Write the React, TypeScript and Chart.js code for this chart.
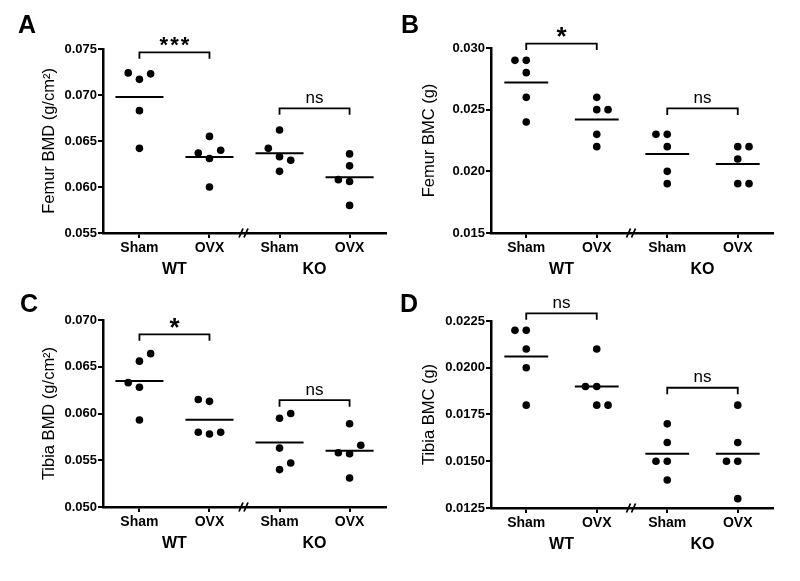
import React, { useEffect, useRef } from "react";
import { Chart, registerables } from "chart.js";
Chart.register(...registerables);

const FONT = "'Liberation Sans', Arial, Helvetica, sans-serif";

// Shared categories
const groupLabels = ["Sham", "OVX", "Sham", "OVX"];
const groupPositions = [1, 2, 3, 4];
const genotypeLabels = ["WT", "KO"];
const genotypePositions = [1.5, 3.5];
const breakPosition = 2.5;

// Panel A: Femur BMD (g/cm²)
const femurBmdWtSham = [0.0724, 0.0717, 0.0723, 0.0683, 0.0642];
const femurBmdWtOvx = [0.0655, 0.0637, 0.064, 0.0631, 0.06];
const femurBmdKoSham = [0.0662, 0.0642, 0.0633, 0.0629, 0.0617];
const femurBmdKoOvx = [0.0636, 0.0623, 0.0608, 0.0606, 0.058];
const femurBmdJitter = [[-1, 0, 1, 0, 0], [0, -1, 1, 0, 0], [0, -1, 0, 1, 0], [0, 0, -1, 0, 0]];
const femurBmdTicks = [0.055, 0.06, 0.065, 0.07, 0.075];
const femurBmdBrackets = [
  { from: 1, to: 2, y: 0.07464, label: "***" },
  { from: 3, to: 4, y: 0.06855, label: "ns" },
];

// Panel B: Femur BMC (g)
const femurBmcWtSham = [0.029, 0.029, 0.028, 0.026, 0.024];
const femurBmcWtOvx = [0.026, 0.025, 0.025, 0.023, 0.022];
const femurBmcKoSham = [0.023, 0.023, 0.022, 0.02, 0.019];
const femurBmcKoOvx = [0.022, 0.022, 0.021, 0.019, 0.019];
const femurBmcJitter = [[-1, 0, 0, 0, 0], [0, 0, 1, 0, 0], [-1, 0, 0, 0, 0], [0, 1, 0, 0, 1]];
const femurBmcTicks = [0.015, 0.02, 0.025, 0.03];
const femurBmcBrackets = [
  { from: 1, to: 2, y: 0.03036, label: "*" },
  { from: 3, to: 4, y: 0.0251, label: "ns" },
];

// Panel C: Tibia BMD (g/cm²)
const tibiaBmdWtSham = [0.0633, 0.0656, 0.0664, 0.0628, 0.0593];
const tibiaBmdWtOvx = [0.0615, 0.0613, 0.058, 0.0578, 0.058];
const tibiaBmdKoSham = [0.0595, 0.06, 0.0563, 0.0547, 0.054];
const tibiaBmdKoOvx = [0.0589, 0.0566, 0.0558, 0.0557, 0.0531];
const tibiaBmdJitter = [[-1, 0, 1, 0, 0], [-1, 0, -1, 0, 1], [0, 1, 0, 1, 0], [0, 1, -1, 0, 0]];
const tibiaBmdTicks = [0.05, 0.055, 0.06, 0.065, 0.07];
const tibiaBmdBrackets = [
  { from: 1, to: 2, y: 0.06847, label: "*" },
  { from: 3, to: 4, y: 0.06143, label: "ns" },
];

// Panel D: Tibia BMC (g)
const tibiaBmcWtSham = [0.022, 0.022, 0.021, 0.02, 0.018];
const tibiaBmcWtOvx = [0.021, 0.019, 0.019, 0.018, 0.018];
const tibiaBmcKoSham = [0.017, 0.016, 0.015, 0.015, 0.014];
const tibiaBmcKoOvx = [0.018, 0.016, 0.015, 0.015, 0.013];
const tibiaBmcJitter = [[-1, 0, 0, 0, 0], [0, -1, 0, 0, 1], [0, 0, -1, 0, 0], [0, 0, -1, 0, 0]];
const tibiaBmcTicks = [0.0125, 0.015, 0.0175, 0.02, 0.0225];
const tibiaBmcBrackets = [
  { from: 1, to: 2, y: 0.02291, label: "ns" },
  { from: 3, to: 4, y: 0.01893, label: "ns" },
];

const JITTER_STEP = 0.16;

type Bracket = { from: number; to: number; y: number; label: string };
type PanelCfg = {
  letter: string;
  letterX: number;
  letterY: number;
  left: number;
  top: number;
  title: string;
  groups: number[][];
  jitter: number[][];
  ticks: number[];
  decimals: number;
  brackets: Bracket[];
  xMin: number;
  xMax: number;
  yWidth: number;
  padTop: number;
  padRight: number;
  x2Height: number;
  titlePad: number;
  meanHalf: number;
};

const panels: PanelCfg[] = [
  {
    letter: "A", letterX: 18, letterY: 33, left: 0, top: 0,
    title: "Femur BMD (g/cm²)",
    groups: [femurBmdWtSham, femurBmdWtOvx, femurBmdKoSham, femurBmdKoOvx],
    jitter: femurBmdJitter, ticks: femurBmdTicks, decimals: 3, brackets: femurBmdBrackets,
    xMin: 0.48, xMax: 4.52, yWidth: 103, padTop: 49, padRight: 14, x2Height: 32, titlePad: 39.4, meanHalf: 0.343,
  },
  {
    letter: "B", letterX: 1, letterY: 33, left: 400, top: 0,
    title: "Femur BMC (g)",
    groups: [femurBmcWtSham, femurBmcWtOvx, femurBmcKoSham, femurBmcKoOvx],
    jitter: femurBmcJitter, ticks: femurBmcTicks, decimals: 3, brackets: femurBmcBrackets,
    xMin: 0.5, xMax: 4.5, yWidth: 91, padTop: 48, padRight: 27, x2Height: 32, titlePad: 19.2, meanHalf: 0.311,
  },
  {
    letter: "C", letterX: 20, letterY: 22, left: 0, top: 290,
    title: "Tibia BMD (g/cm²)",
    groups: [tibiaBmdWtSham, tibiaBmdWtOvx, tibiaBmdKoSham, tibiaBmdKoOvx],
    jitter: tibiaBmdJitter, ticks: tibiaBmdTicks, decimals: 3, brackets: tibiaBmdBrackets,
    xMin: 0.48, xMax: 4.52, yWidth: 103, padTop: 30, padRight: 14, x2Height: 48, titlePad: 39.4, meanHalf: 0.343,
  },
  {
    letter: "D", letterX: 0, letterY: 22, left: 400, top: 290,
    title: "Tibia BMC (g)",
    groups: [tibiaBmcWtSham, tibiaBmcWtOvx, tibiaBmcKoSham, tibiaBmcKoOvx],
    jitter: tibiaBmcJitter, ticks: tibiaBmcTicks, decimals: 4, brackets: tibiaBmcBrackets,
    xMin: 0.5, xMax: 4.5, yWidth: 91, padTop: 31, padRight: 27, x2Height: 47, titlePad: 19.2, meanHalf: 0.311,
  },
];

function mean(a: number[]) {
  return a.reduce((s, v) => s + v, 0) / a.length;
}

function makeAnnotationPlugin(cfg: PanelCfg) {
  return {
    id: "annot" + cfg.letter,
    afterDraw(chart: any) {
      const ctx = chart.ctx as CanvasRenderingContext2D;
      const xs = chart.scales.x;
      const ys = chart.scales.y;
      const area = chart.chartArea;
      ctx.save();
      ctx.fillStyle = "#000";
      ctx.strokeStyle = "#000";
      // panel letter
      ctx.font = `bold 25px ${FONT}`;
      ctx.textAlign = "left";
      ctx.textBaseline = "alphabetic";
      ctx.fillText(cfg.letter, cfg.letterX, cfg.letterY);
      // axis break mark
      const bx = xs.getPixelForValue(breakPosition) - 1;
      const by = area.bottom;
      ctx.lineWidth = 1.8;
      ctx.beginPath();
      ctx.moveTo(bx - 4.5, by + 4.5);
      ctx.lineTo(bx - 0.5, by - 4.5);
      ctx.moveTo(bx + 0.5, by + 4.5);
      ctx.lineTo(bx + 4.5, by - 4.5);
      ctx.stroke();
      // brackets
      for (const b of cfg.brackets) {
        const x1 = xs.getPixelForValue(b.from);
        const x2 = xs.getPixelForValue(b.to);
        const y = ys.getPixelForValue(b.y);
        ctx.lineWidth = 1.8;
        ctx.beginPath();
        ctx.moveTo(x1, y + 6.5);
        ctx.lineTo(x1, y);
        ctx.lineTo(x2, y);
        ctx.lineTo(x2, y + 6.5);
        ctx.stroke();
        const cx = (x1 + x2) / 2;
        ctx.textAlign = "center";
        ctx.textBaseline = "alphabetic";
        if (b.label.indexOf("*") >= 0) {
          if (b.label.length > 1) {
            ctx.font = `bold 22px ${FONT}`;
            (ctx as any).letterSpacing = "2px";
            ctx.fillText(b.label, cx + 1, y - 0.5);
            (ctx as any).letterSpacing = "0px";
          } else {
            ctx.font = `bold 26px ${FONT}`;
            ctx.fillText(b.label, cx, y + 1.5);
          }
        } else {
          ctx.font = `17px ${FONT}`;
          ctx.fillText(b.label, cx, y - 5.6);
        }
      }
      ctx.restore();
    },
  };
}

function Panel({ cfg }: { cfg: PanelCfg }) {
  const ref = useRef<HTMLCanvasElement | null>(null);
  useEffect(() => {
    if (!ref.current) return;
    const datasets: any[] = [];
    cfg.groups.forEach((vals, gi) => {
      const pos = groupPositions[gi];
      const m = mean(vals);
      datasets.push({
        data: [
          { x: pos - cfg.meanHalf, y: m },
          { x: pos + cfg.meanHalf, y: m },
        ],
        showLine: true,
        borderColor: "#000",
        borderWidth: 2,
        pointRadius: 0,
        clip: false,
      });
      datasets.push({
        data: vals.map((v, i) => ({ x: pos + cfg.jitter[gi][i] * JITTER_STEP, y: v })),
        pointRadius: 3.8,
        pointBackgroundColor: "#000",
        pointBorderWidth: 0,
        borderColor: "#000",
        showLine: false,
        clip: false,
      });
    });
    const axisGrid = {
      display: true,
      drawOnChartArea: false,
      drawTicks: true,
      tickLength: 5,
      color: "#000",
      lineWidth: 2,
    };
    const axisBorder = { display: true, color: "#000", width: 2.5 };
    const chart = new Chart(ref.current, {
      type: "scatter",
      data: { datasets },
      options: {
        responsive: false,
        animation: false,
        devicePixelRatio: 1,
        layout: { padding: { left: 0, right: cfg.padRight, top: cfg.padTop, bottom: 0 } },
        plugins: { legend: { display: false }, tooltip: { enabled: false } },
        scales: {
          x: {
            type: "linear",
            axis: "x",
            position: "bottom",
            weight: 0,
            min: cfg.xMin,
            max: cfg.xMax,
            afterBuildTicks: (s: any) => {
              s.ticks = groupPositions.map((v) => ({ value: v }));
            },
            afterFit: (s: any) => {
              s.height = 25;
            },
            ticks: {
              autoSkip: false,
              maxRotation: 0,
              padding: 2,
              color: "#000",
              font: { family: FONT, size: 14, weight: "bold" },
              callback: (v: any) => {
                const i = groupPositions.indexOf(Number(v));
                return i >= 0 ? groupLabels[i] : "";
              },
            },
            grid: axisGrid,
            border: axisBorder,
          },
          x2: {
            type: "linear",
            axis: "x",
            position: "bottom",
            weight: 1,
            min: cfg.xMin,
            max: cfg.xMax,
            afterBuildTicks: (s: any) => {
              s.ticks = genotypePositions.map((v) => ({ value: v }));
            },
            afterFit: (s: any) => {
              s.height = cfg.x2Height;
            },
            ticks: {
              autoSkip: false,
              maxRotation: 0,
              padding: 2.4,
              color: "#000",
              font: { family: FONT, size: 16, weight: "bold" },
              callback: (v: any) => {
                const i = genotypePositions.indexOf(Number(v));
                return i >= 0 ? genotypeLabels[i] : "";
              },
            },
            grid: { display: false, drawTicks: false, drawOnChartArea: false },
            border: { display: false },
          },
          y: {
            type: "linear",
            position: "left",
            min: cfg.ticks[0],
            max: cfg.ticks[cfg.ticks.length - 1],
            afterBuildTicks: (s: any) => {
              s.ticks = cfg.ticks.map((v) => ({ value: v }));
            },
            afterFit: (s: any) => {
              s.width = cfg.yWidth;
            },
            ticks: {
              autoSkip: false,
              padding: 1,
              color: "#000",
              font: { family: FONT, size: 13, weight: "bold" },
              callback: (v: any) => Number(v).toFixed(cfg.decimals),
            },
            grid: axisGrid,
            border: axisBorder,
            title: {
              display: true,
              text: cfg.title,
              color: "#000",
              font: { family: FONT, size: 16.5 },
              padding: { top: cfg.titlePad, bottom: 0 },
            },
          },
        },
      } as any,
      plugins: [makeAnnotationPlugin(cfg)],
    });
    return () => chart.destroy();
  }, [cfg]);
  return (
    <canvas
      ref={ref}
      width={400}
      height={290}
      style={{ position: "absolute", left: cfg.left, top: cfg.top, width: 400, height: 290 }}
    />
  );
}

export default function App() {
  return (
    <div style={{ position: "absolute", left: 0, top: 0, width: 800, height: 581, background: "#fff" }}>
      {panels.map((p) => (
        <Panel key={p.letter} cfg={p} />
      ))}
    </div>
  );
}
